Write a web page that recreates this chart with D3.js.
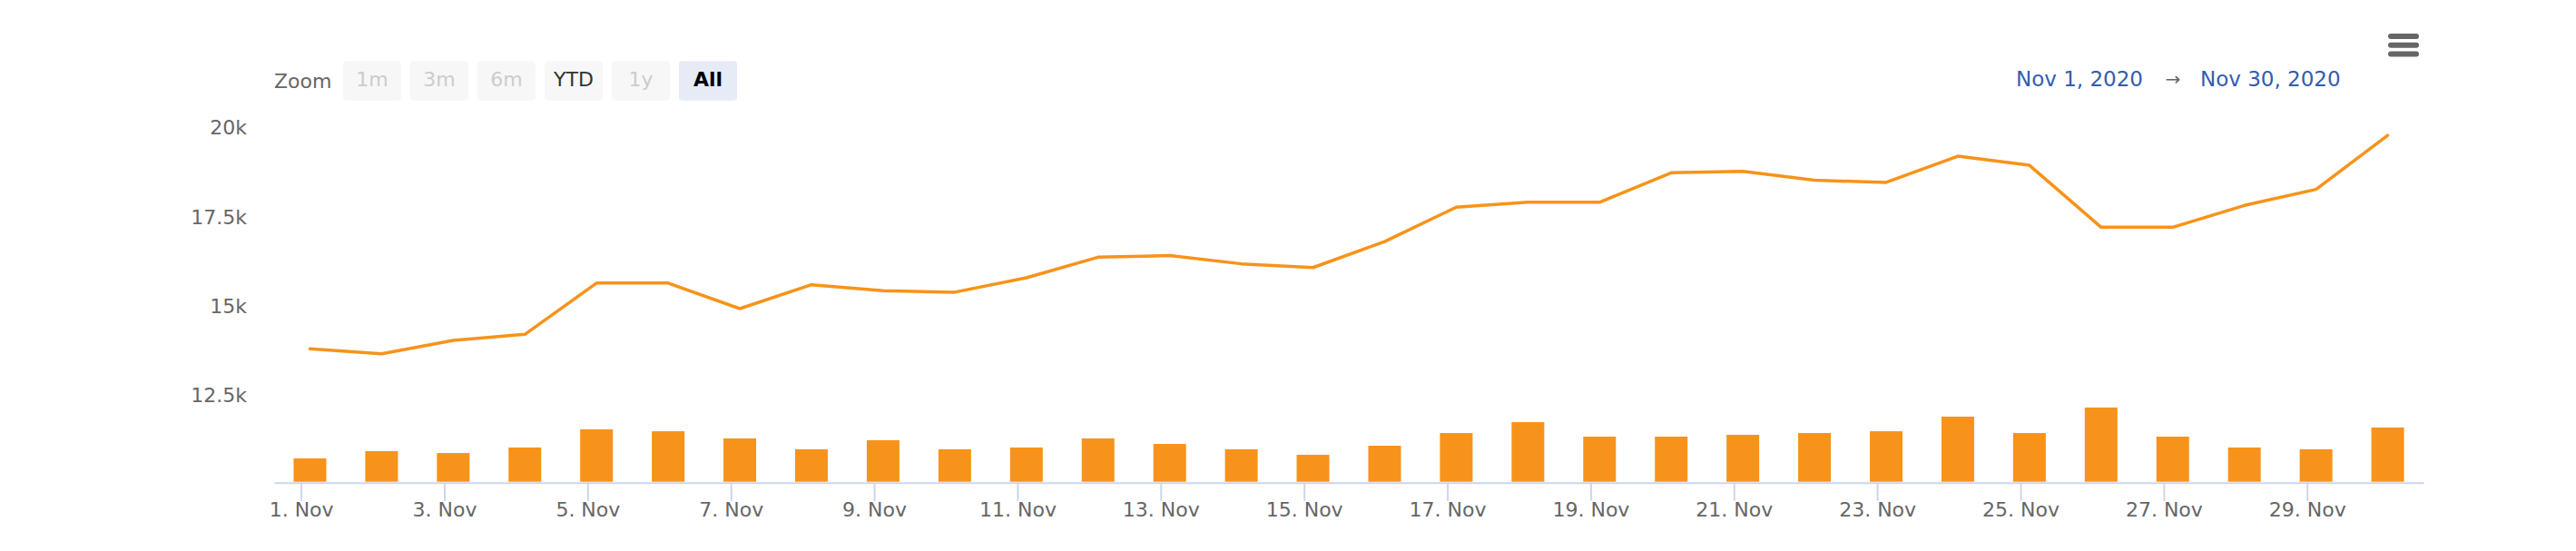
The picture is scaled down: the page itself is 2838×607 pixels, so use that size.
<!DOCTYPE html>
<html lang="en">
<head>
    <meta charset="UTF-8" />
    <title>Nov 2020 price</title>
    <script src="https://d3js.org/d3.v7.min.js"></script>
    <style>
        html, body { margin: 0; padding: 0; background: #fff; }
        svg { display: block; font-family: "Lucida Grande", "DejaVu Sans", sans-serif; }
    </style>
</head>
<body>
    <div class="canvas"></div>

    <script>
        /* data (one point per day, stamped 03:00 UTC) */
        const dates = [
            "2020-11-01", "2020-11-02", "2020-11-03", "2020-11-04", "2020-11-05",
            "2020-11-06", "2020-11-07", "2020-11-08", "2020-11-09", "2020-11-10",
            "2020-11-11", "2020-11-12", "2020-11-13", "2020-11-14", "2020-11-15",
            "2020-11-16", "2020-11-17", "2020-11-18", "2020-11-19", "2020-11-20",
            "2020-11-21", "2020-11-22", "2020-11-23", "2020-11-24", "2020-11-25",
            "2020-11-26", "2020-11-27", "2020-11-28", "2020-11-29", "2020-11-30"
        ];
        const prices = [
            13790, 13650, 14025, 14195, 15630, 15630, 14915, 15585, 15415, 15375,
            15780, 16355, 16400, 16170, 16065, 16795, 17755, 17895, 17895, 18720,
            18760, 18510, 18450, 19185, 18930, 17195, 17195, 17805, 18255, 19770
        ];
        const volumes = [
            10720, 10925, 10870, 11025, 11535, 11480, 11280, 10975, 11230, 10975,
            11025, 11280, 11125, 10975, 10820, 11075, 11430, 11735, 11330, 11330,
            11380, 11430, 11480, 11890, 11430, 12145, 11330, 11025, 10975, 11585
        ];
        const yTicks = [12500, 15000, 17500, 20000];
        const zoomButtons = ["1m", "3m", "6m", "YTD", "1y", "All"];
        const enabledButtons = ["YTD", "All"];
        const selectedButton = "All";
        const rangeFrom = "Nov 1, 2020";
        const rangeTo = "Nov 30, 2020";

        const 전체넓이 = 2838, 전체높이 = 607;
        const plot = { left: 302, right: 2670, top: 140, bottom: 533.3, axisY: 531.7 };
        const orange = "#f7931a";

        const svg = d3.select(".canvas").append("svg")
            .attr("width", 전체넓이)
            .attr("height", 전체높이);

        const rows = dates.map((d, i) => ({
            date: new Date(d + "T03:00:00Z"),
            price: prices[i],
            volume: volumes[i]
        }));

        /* scales: half a day of padding on each side, like a column range */
        const x = d3.scaleUtc()
            .domain([d3.utcHour.offset(rows[0].date, -12), d3.utcHour.offset(rows[rows.length - 1].date, 12)])
            .range([plot.left, plot.right]);

        const y = d3.scaleLinear()
            .domain([10000, 20000])
            .range([plot.bottom, plot.top]);

        /* range selector */
        svg.append("text")
            .attr("x", 302).attr("y", 96.5)
            .attr("fill", "#666666").attr("font-size", 22)
            .text("Zoom");

        const btn = svg.append("g").selectAll("g").data(zoomButtons).enter()
            .append("g")
            .attr("transform", (d, i) => `translate(${378 + i * 74}, 67.3)`);
        btn.append("rect")
            .attr("width", 64).attr("height", 43.5).attr("rx", 4)
            .attr("fill", d => d === selectedButton ? "#e6ebf5" : "#f7f7f7");
        btn.append("text")
            .attr("x", 32).attr("y", 28)
            .attr("text-anchor", "middle").attr("font-size", 22)
            .attr("font-weight", d => d === selectedButton ? "bold" : "normal")
            .attr("fill", d => d === selectedButton ? "#000000" : (enabledButtons.includes(d) ? "#333333" : "#cccccc"))
            .text(d => d);

        /* date range inputs */
        svg.append("text")
            .attr("x", 2221).attr("y", 95)
            .attr("fill", "#335cad").attr("font-size", 23)
            .text(rangeFrom);
        svg.append("text")
            .attr("x", 2394).attr("y", 94)
            .attr("text-anchor", "middle")
            .attr("fill", "#666666").attr("font-size", 20)
            .text("→");
        svg.append("text")
            .attr("x", 2424).attr("y", 95)
            .attr("fill", "#335cad").attr("font-size", 23)
            .text(rangeTo);

        /* export menu icon */
        svg.append("g").selectAll("line").data([40, 49.7, 59.4]).enter()
            .append("line")
            .attr("x1", 2634).attr("x2", 2662)
            .attr("y1", d => d).attr("y2", d => d)
            .attr("stroke", "#666666").attr("stroke-width", 6)
            .attr("stroke-linecap", "round");

        /* y axis labels (no grid lines) */
        const axisY = svg.append("g")
            .attr("transform", `translate(272, 0)`)
            .call(d3.axisLeft(y).tickValues(yTicks).tickSize(0).tickPadding(0)
                .tickFormat(v => (v / 1000) + "k"));
        axisY.select(".domain").remove();
        axisY.selectAll("text")
            .attr("fill", "#666666").attr("font-size", 22)
            .attr("font-family", null)
            .attr("dy", "0.35em");

        /* volume columns */
        svg.append("g").selectAll("rect").data(rows).enter()
            .append("rect")
            .attr("x", d => x(d.date) - 18)
            .attr("width", 36)
            .attr("y", d => y(d.volume))
            .attr("height", d => plot.axisY - 1 - y(d.volume))
            .attr("fill", orange);

        /* x axis */
        const axisX = svg.append("g")
            .attr("transform", `translate(0, ${plot.axisY})`)
            .call(d3.axisBottom(x)
                .ticks(d3.utcDay.every(2))
                .tickSize(20)
                .tickPadding(2)
                .tickSizeOuter(0)
                .tickFormat(d3.utcFormat("%-d. %b")));
        axisX.select(".domain")
            .attr("stroke", "#ccd6eb").attr("stroke-width", 2);
        axisX.selectAll(".tick line")
            .attr("stroke", "#ccd6eb").attr("stroke-width", 2);
        axisX.selectAll("text")
            .attr("fill", "#666666").attr("font-size", 22)
            .attr("font-family", null);
        axisX.attr("font-family", null);
        axisY.attr("font-family", null);

        /* price line */
        const line = d3.line()
            .x(d => x(d.date))
            .y(d => y(d.price));
        svg.append("path")
            .datum(rows)
            .attr("d", line)
            .attr("fill", "none")
            .attr("stroke", orange)
            .attr("stroke-width", 3.5)
            .attr("stroke-linejoin", "round")
            .attr("stroke-linecap", "round");
    </script>
</body>
</html>
